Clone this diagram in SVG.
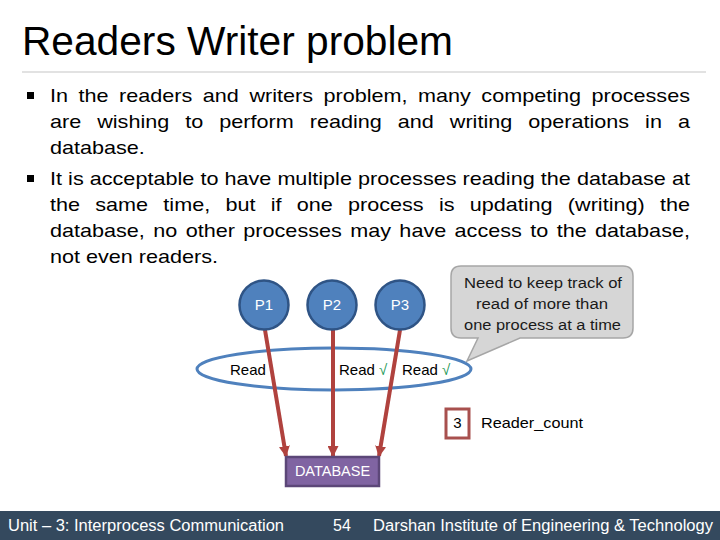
<svg xmlns="http://www.w3.org/2000/svg" width="720" height="540" viewBox="0 0 720 540">
<style>
text{font-family:"Liberation Sans",Arial,sans-serif;}
.body{font-size:18px;fill:#000;}
.proc{fill:#4F81BD;stroke:#2f5485;stroke-width:2.5;}
.plabel{font-size:15px;fill:#fff;text-anchor:middle;}
.conn{stroke:#b0423e;stroke-width:4;fill:none;}
.lbl{font-size:15px;fill:#000;}
.chk{font-size:15px;fill:#1f9a58;}
.foot{font-size:16px;fill:#fff;}
.call{font-size:15.5px;fill:#1a1a1a;text-anchor:middle;}
</style>
<defs>
<marker id="ah" viewBox="0 0 10 10" refX="9" refY="5" markerWidth="11" markerHeight="11" markerUnits="userSpaceOnUse" orient="auto">
<path d="M0,0 L10,5 L0,10 Z" fill="#b0423e"/>
</marker>
</defs>
<rect width="720" height="540" fill="#fff"/>
<g id="title">
<text x="22" y="55" font-size="40" textLength="431" lengthAdjust="spacingAndGlyphs">Readers Writer problem</text>
<line x1="22" y1="72" x2="706" y2="72" stroke="#d9d9d9" stroke-width="1.5"/>
</g>
<g id="bullets">
<rect x="27" y="92" width="7" height="7" fill="#000"/>
<rect x="27" y="175" width="7" height="7" fill="#000"/>
<g transform="scale(1.2 1)">
<text class="body" x="41.667" y="102" word-spacing="3.77" textLength="533.3" lengthAdjust="spacing">In the readers and writers problem, many competing processes</text>
<text class="body" x="41.667" y="128" word-spacing="8.35" textLength="533.3" lengthAdjust="spacing">are wishing to perform reading and writing operations in a</text>
<text class="body" x="41.667" y="154">database.</text>
<text class="body" x="41.667" y="185" textLength="533.3" lengthAdjust="spacing">It is acceptable to have multiple processes reading the database at</text>
<text class="body" x="41.667" y="211" word-spacing="7.71" textLength="533.3" lengthAdjust="spacing">the same time, but if one process is updating (writing) the</text>
<text class="body" x="41.667" y="237" word-spacing="2.01" textLength="533.3" lengthAdjust="spacing">database, no other processes may have access to the database,</text>
<text class="body" x="41.667" y="263">not even readers.</text>
</g>
</g>
<g id="readset">
<ellipse cx="334" cy="369" rx="137" ry="21" fill="none" stroke="#4F81BD" stroke-width="3"/>
<text class="lbl" x="230" y="375">Read</text>
<text class="lbl" x="339" y="375">Read <tspan class="chk">√</tspan></text>
<text class="lbl" x="402" y="375">Read <tspan class="chk">√</tspan></text>
</g>
<g id="callout">
<path d="M461,266 H623 Q633,266 633,276 V328 Q633,338 623,338 H520 L467,361 L478,338 H461 Q451,338 451,328 V276 Q451,266 461,266 Z" fill="#d6d6d6" stroke="#a6a6a6" stroke-width="1.5"/>
<text class="call" x="543" y="288" textLength="158" lengthAdjust="spacingAndGlyphs">Need to keep track of</text>
<text class="call" x="542" y="309" textLength="132" lengthAdjust="spacingAndGlyphs">read of more than</text>
<text class="call" x="542.5" y="330" textLength="157" lengthAdjust="spacingAndGlyphs">one process at a time</text>
</g>
<g id="connectors">
<line class="conn" x1="265" y1="330" x2="286" y2="456" marker-end="url(#ah)"/>
<line class="conn" x1="333" y1="330" x2="333" y2="456" marker-end="url(#ah)"/>
<line class="conn" x1="400" y1="330" x2="379" y2="456" marker-end="url(#ah)"/>
</g>
<g id="P1"><circle class="proc" cx="264" cy="305" r="24.5"/><text class="plabel" x="264" y="310">P1</text></g>
<g id="P2"><circle class="proc" cx="332" cy="305" r="24.5"/><text class="plabel" x="332" y="310">P2</text></g>
<g id="P3"><circle class="proc" cx="400" cy="305" r="24.5"/><text class="plabel" x="400" y="310">P3</text></g>
<g id="database">
<rect x="286" y="457" width="93" height="29" fill="#8064A2" stroke="#5c4778" stroke-width="2.5"/>
<text x="332.5" y="476" font-size="14.5" fill="#fff" text-anchor="middle">DATABASE</text>
</g>
<g id="reader_count">
<rect x="446" y="409" width="23" height="29" fill="#fff" stroke="#a8504e" stroke-width="3"/>
<text x="457.5" y="428" font-size="15" fill="#000" text-anchor="middle">3</text>
<text x="481" y="428" font-size="15" fill="#000" textLength="102" lengthAdjust="spacingAndGlyphs">Reader_count</text>
</g>
<g id="footer">
<rect x="0" y="511" width="720" height="29" fill="#34495e"/>
<text class="foot" x="8" y="531" textLength="276" lengthAdjust="spacingAndGlyphs">Unit – 3: Interprocess Communication</text>
<text class="foot" x="333" y="531">54</text>
<text class="foot" x="373" y="531" textLength="340" lengthAdjust="spacingAndGlyphs">Darshan Institute of Engineering &amp; Technology</text>
</g>
</svg>
